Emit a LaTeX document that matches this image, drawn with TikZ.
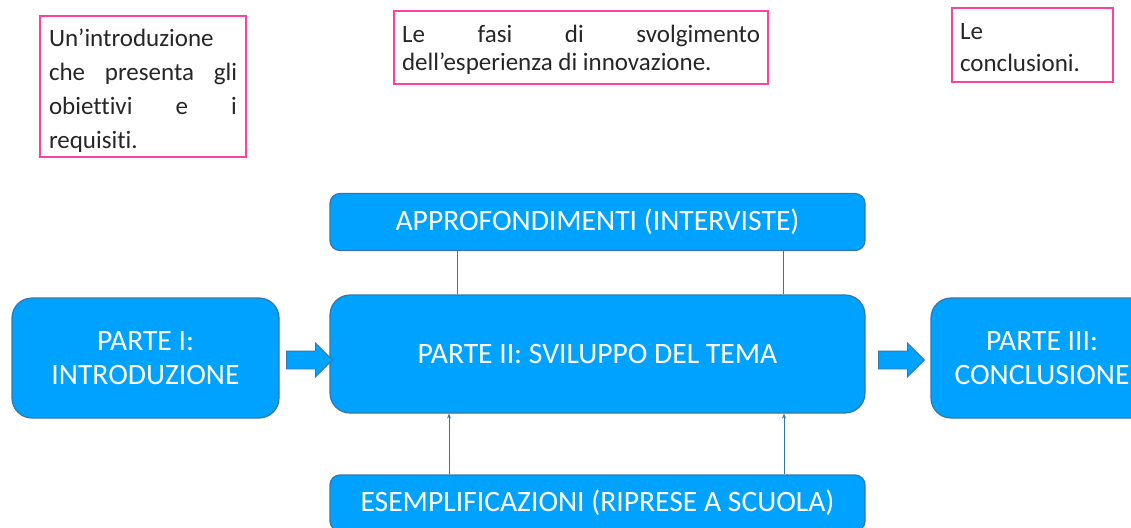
\documentclass[tikz,border=0pt]{standalone}
\usepackage{fontspec}
\setmainfont[Ligatures=NoCommon]{Carlito}
\usetikzlibrary{shapes.arrows,arrows.meta}
\definecolor{partblue}{RGB}{0, 162, 255}
\definecolor{partedge}{RGB}{52, 118, 168}
\definecolor{notepink}{RGB}{255, 64, 160}
\definecolor{notetext}{RGB}{38, 38, 38}

\begin{document}
\begin{tikzpicture}[x=1pt, y=-1pt,
    part/.style={draw=partedge, line width=1.2pt, fill=partblue, text=white,
        align=center, font=\fontsize{29.6}{34}\selectfont, inner sep=0pt},
    note/.style={draw=notepink, line width=2pt, text=notetext, anchor=north west,
        align=justify, font=\fontsize{25}{34}\selectfont, inner ysep=0pt},
    blockarrow/.style={single arrow, draw=partedge, line width=0.8pt, fill=partblue,
        minimum height=46pt, inner xsep=0pt, inner ysep=8.5pt,
        single arrow head extend=8pt},
    link/.style={draw=partedge, line width=1pt}]
    \useasboundingbox (0,0) rectangle (1131,527);
    \clip (0,0) rectangle (1131,527);

    % Notes on top
    \node[note, text width=188, inner xsep=9, minimum height=141,
        text height=27pt, text depth=108pt] (n1) at (39,15)
        {Un’introduzione\linebreak che presenta gli\linebreak obiettivi e i\linebreak requisiti.};
    \node[note, text width=358, inner xsep=8, minimum height=73,
        text height=24.7pt, text depth=34.3pt,
        font=\fontsize{25}{28.3}\selectfont] (n2) at (393,10)
        {Le fasi di svolgimento\linebreak dell’esperienza di innovazione.};
    \node[note, text width=145, inner xsep=8, minimum height=74,
        text height=20.6pt, text depth=32pt,
        font=\fontsize{25}{31.7}\selectfont] (n3) at (951,7)
        {Le\linebreak conclusioni.};

    % The three parts
    \node[part, rounded corners=20pt, minimum width=267, minimum height=120] (p1) at (145.5,358)
        {PARTE I:\\INTRODUZIONE};
    \node[part, rounded corners=20pt, minimum width=535, minimum height=118] (p2) at (597.5,354)
        {PARTE II: SVILUPPO DEL TEMA};
    \node[part, rounded corners=20pt, minimum width=222, minimum height=120] (p3) at (1042,358)
        {PARTE III:\\CONCLUSIONE};

    % Side boxes
    \node[part, rounded corners=10pt, minimum width=535, minimum height=57] (appr) at (597.5,222)
        {APPROFONDIMENTI (INTERVISTE)};
    \node[part, rounded corners=10pt, minimum width=535, minimum height=56] (esem) at (597.5,503)
        {ESEMPLIFICAZIONI (RIPRESE A SCUOLA)};

    % Block arrows
    \node[blockarrow] (a1) at (305,360) {};
    \node[blockarrow] (a2) at (897,360) {};

    % Links
    \draw[link] (appr.south -| 457,0) -- (p2.north -| 457,0);
    \draw[link] (appr.south -| 783,0) -- (p2.north -| 783,0);
    \draw[link, -{Stealth[length=5pt, width=4pt]}] (esem.north -| 449,0) -- (p2.south -| 449,0);
    \draw[link, -{Stealth[length=5pt, width=4pt]}] (esem.north -| 784,0) -- (p2.south -| 784,0);
\end{tikzpicture}
\end{document}
